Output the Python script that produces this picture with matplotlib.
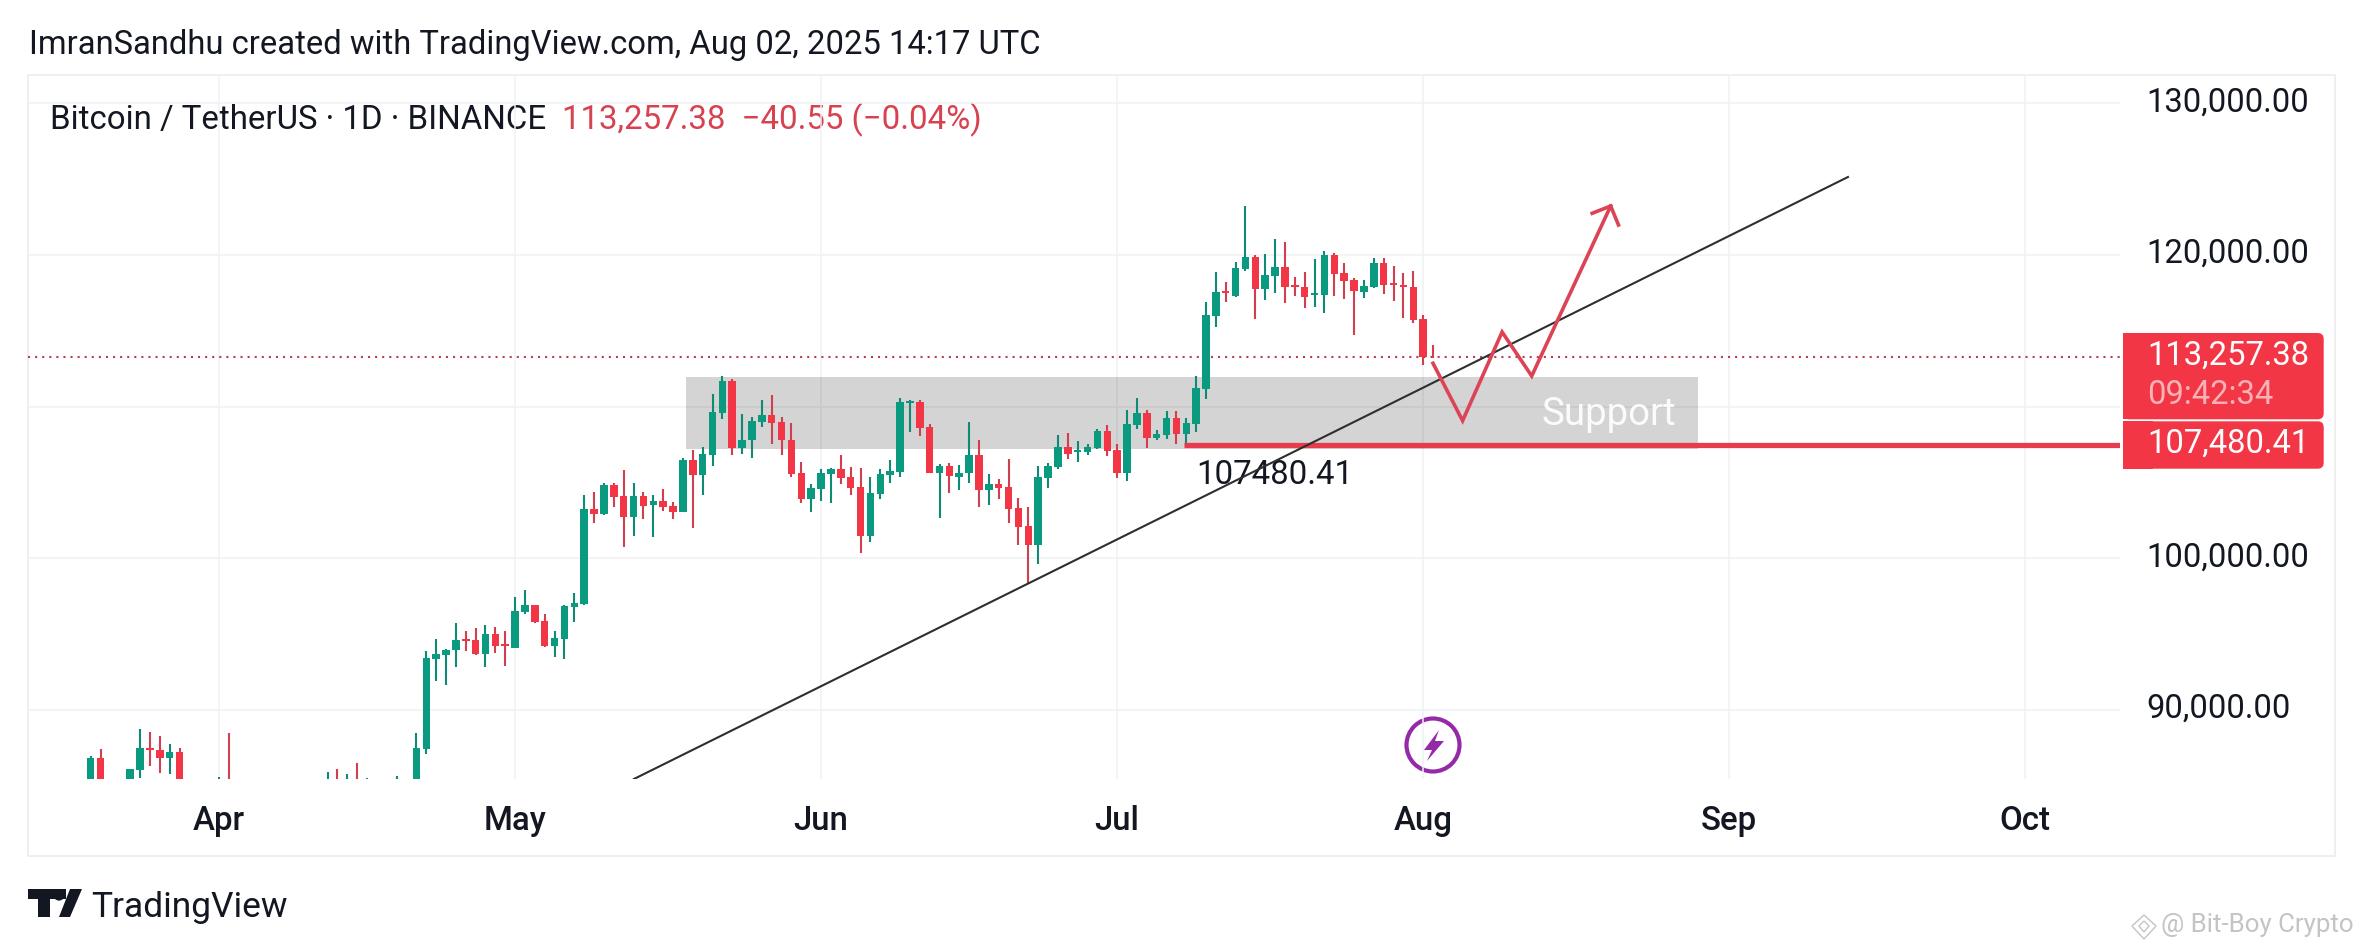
# BTC/USDT daily chart (TradingView screenshot)
import pandas as pd
import matplotlib
matplotlib.use('Agg')
import matplotlib.pyplot as plt
import matplotlib.dates as mdates
from matplotlib.patches import Circle, FancyBboxPatch, Polygon, Rectangle
from matplotlib.transforms import ScaledTranslation

plt.rcParams['font.family'] = ['Roboto', 'DejaVu Sans']

# daily candles, starting 2025-03-19
first_day = '2025-03-19'
opens = [
    82700, 86850, 84170, 84040, 83830, 86070, 87500, 87365, 86860, 87230,
    84420, 82650, 82390, 82550, 85160, 82520, 83100, 83860, 83500, 78210,
    79240, 76270, 82570, 79630, 83400, 85290, 83680, 84540, 83670, 84030,
    84900, 84450, 85060, 85170, 87450, 93390, 93650, 93940, 94700, 94620,
    93720, 94990, 94350, 94110, 96460, 96900, 95870, 94240, 94710, 96810,
    96990, 103250, 102920, 104830, 104110, 102750, 104110, 103490, 103760, 103430,
    103080, 106460, 105510, 106830, 109600, 111690, 107270, 107780, 108990, 109430,
    108990, 107800, 105600, 103930, 104590, 105580, 105890, 105360, 104700, 101490,
    104260, 105490, 105690, 110260, 110300, 108660, 105650, 106090, 105380, 105600,
    106790, 104530, 104880, 104700, 103300, 102110, 100900, 105320, 106040, 107320,
    107030, 107010, 107250, 108410, 107140, 105620, 108790, 109560, 107930, 108130,
    109230, 108220, 108880, 111160, 115970, 117620, 117310, 119050, 119860, 117730,
    118610, 119200, 118000, 117890, 117380, 117380, 119990, 118810, 118350, 117580,
    117890, 119470, 118150, 118020, 117890, 115780, 113297.93,
]
highs = [
    86970, 87430, 84850, 84500, 86130, 88730, 88530, 88290, 87740, 87500,
    84600, 83500, 83950, 85560, 88510, 83900, 84700, 84230, 83800, 81200,
    80820, 83500, 82700, 84250, 85910, 86110, 85780, 86500, 85520, 85200,
    85100, 85650, 85300, 88510, 93890, 94660, 94000, 95740, 95210, 95390,
    95580, 95470, 95210, 97450, 97910, 96950, 96310, 95190, 96900, 97690,
    104170, 104370, 104940, 104940, 105820, 104970, 104350, 104150, 104550, 103690,
    106640, 107140, 107320, 110830, 112020, 111800, 109510, 109290, 110410, 110770,
    109290, 108920, 106350, 104880, 105890, 105950, 106810, 106020, 105950, 105360,
    105870, 106480, 110570, 110440, 110440, 108830, 106220, 106260, 106150, 108990,
    107800, 105560, 105230, 106550, 103980, 103380, 106060, 106310, 108110, 108260,
    107730, 107560, 108500, 108790, 107540, 109780, 110570, 109760, 108440, 109710,
    109710, 109250, 112020, 116900, 118870, 118210, 119530, 123220, 119970, 120060,
    121030, 120850, 118540, 118870, 119730, 120260, 120130, 119470, 118480, 118350,
    119800, 119800, 119270, 118810, 118940, 116020, 114060,
]
lows = [
    82500, 83600, 83180, 83650, 83800, 85540, 86330, 85870, 85800, 84000,
    81600, 81600, 81300, 82430, 82300, 81200, 81600, 82370, 77150, 74500,
    76200, 74600, 78500, 78900, 82800, 83100, 83600, 83600, 83100, 83700,
    84100, 84300, 83900, 85100, 87100, 91940, 91670, 92860, 93910, 93650,
    92860, 93780, 92930, 94100, 96350, 95760, 94180, 93520, 93390, 95830,
    96900, 102350, 102880, 103400, 100770, 101490, 102610, 101430, 103140, 102590,
    103050, 102020, 104170, 106110, 109180, 106830, 106880, 106640, 108660, 107540,
    106830, 105380, 103670, 103080, 103800, 103670, 104920, 104200, 100370, 101100,
    103930, 104990, 105380, 108350, 108060, 105620, 102680, 104330, 104530, 104990,
    103400, 103540, 103930, 102350, 100900, 98400, 99650, 104660, 105870, 106570,
    106370, 106810, 107230, 106770, 105300, 105100, 108520, 107270, 107800, 107840,
    107540, 107320, 108330, 110520, 115270, 116900, 117250, 118940, 115780, 117050,
    117490, 116830, 117290, 116520, 116570, 116190, 117290, 117090, 114740, 117160,
    117840, 117420, 116960, 115840, 115510, 112740, 113200,
]
closes = [
    86850, 84170, 84040, 83830, 86110, 87500, 87390, 86860, 87230, 84420,
    82650, 82390, 82550, 85160, 82520, 83100, 83860, 83500, 78210, 79240,
    76270, 82570, 79630, 83400, 85290, 83680, 84540, 83670, 84030, 84900,
    84450, 85060, 85170, 87500, 93410, 93670, 93960, 94600, 94570, 93690,
    94990, 94240, 94220, 96530, 96900, 95800, 94220, 94730, 96860, 97030,
    103250, 102940, 104830, 104060, 102750, 104110, 103470, 103760, 103380, 103080,
    106480, 105510, 106880, 109650, 111690, 107270, 107800, 109050, 109430, 108940,
    107780, 105580, 103930, 104610, 105600, 105890, 105320, 104660, 101490, 104280,
    105540, 105760, 110300, 110370, 108610, 105650, 106090, 105400, 105620, 106790,
    104530, 104880, 104660, 103270, 102090, 100900, 105340, 106090, 107320, 106880,
    107140, 107340, 108410, 107100, 105620, 108850, 109560, 107950, 108200, 109230,
    108200, 108920, 111230, 116040, 117560, 117510, 119140, 119860, 117730, 118680,
    119200, 117910, 117900, 117250, 117470, 119990, 118760, 118300, 117600, 117950,
    119470, 118040, 118040, 117910, 115730, 113300, 113257.38,
]

# axis ticks (110,000 sits behind the price tags, so it has no label)
month_ticks = ['2025-04-01', '2025-05-01', '2025-06-01', '2025-07-01', '2025-08-01', '2025-09-01', '2025-10-01']
month_labels = ['Apr', 'May', 'Jun', 'Jul', 'Aug', 'Sep', 'Oct']
price_ticks = [90000, 100000, 110000, 120000, 130000]
price_labels = ['90,000.00', '100,000.00', '', '120,000.00', '130,000.00']

# drawings on the chart
last_price = 113257.38
support_price = 107480.41
support_zone = ['2025-05-18 08:00', '2025-08-28 20:00', 107184, 111930]
trend_dates = ['2025-05-13 01:00', '2025-09-13 01:00']
trend_prices = [85452, 125135]
path_dates = ['2025-08-02', '2025-08-05', '2025-08-09', '2025-08-12', '2025-08-20']
path_prices = [112855, 109071, 114918, 112017, 123224]
head_dates = ['2025-08-18 03:00', '2025-08-20 00:00', '2025-08-20 19:00']
head_prices = [122743, 123224, 121971]

GREEN = '#0a9a80'
RED = '#f23645'
WICK_RED = '#cf3f4f'
WICK_GREEN = '#0f8a74'
ARROW_RED = '#dc4355'
PURPLE = '#952aa8'
GRID = '#f0f1f3'
W, H = 2363, 952

fig = plt.figure(figsize=(W / 100, H / 100), dpi=100, facecolor='white')

# page layer in pixel coordinates: frame, tags, logo
page = fig.add_axes([0, 0, 1, 1], zorder=0)
page.set_xlim(0, W)
page.set_ylim(H, 0)
page.axis('off')

# chart layer
ax = fig.add_axes([28 / W, (H - 779) / H, (2120 - 28) / W, (779 - 75) / H], zorder=1)
ax.patch.set_alpha(0)
for s in ax.spines.values():
    s.set_visible(False)

apr1 = mdates.date2num(pd.Timestamp('2025-04-01'))
ax.set_xlim(apr1 - 191 / 9.87, apr1 + 1901 / 9.87)
ax.set_ylim(85452, 131859)

ax.set_xticks(mdates.date2num(pd.to_datetime(month_ticks)))
ax.set_xticklabels(month_labels, fontsize=23.8, fontweight='medium', color='#131722')
ax.set_yticks(price_ticks)
ax.set_yticklabels(price_labels, fontsize=23.6, color='#131722')
ax.yaxis.tick_right()
ax.tick_params(axis='both', length=0)
ax.tick_params(axis='x', pad=18.5)
ax.tick_params(axis='y', pad=19)
ax.grid(True, color=GRID, lw=1.1, zorder=0)
ax.set_axisbelow(True)

# price labels sit a little above their grid lines
lift = ScaledTranslation(0, 4.5 / 100, fig.dpi_scale_trans)
for label in ax.get_yticklabels():
    label.set_transform(label.get_transform() + lift)

# support zone
zx0, zx1 = mdates.date2num(pd.to_datetime(support_zone[:2]))
ax.add_patch(Rectangle((zx0, support_zone[2]), zx1 - zx0, support_zone[3] - support_zone[2],
                       facecolor='black', alpha=0.17, edgecolor='none', zorder=1))

# candles
days = mdates.date2num(pd.date_range(first_day, periods=len(closes)))
for d, o, h, l, c in zip(days, opens, highs, lows, closes):
    up = c >= o
    ax.vlines(d, l, h, color=WICK_GREEN if up else WICK_RED, lw=1.5, zorder=3)
    ax.bar(d, abs(c - o), bottom=min(o, c), width=0.76, color=GREEN if up else RED, lw=0, zorder=4)

# last price line
ax.axhline(last_price, color='#b5404e', lw=1.5, ls=(0, (1, 2.4)), zorder=2)

# support line and its label
line_start = apr1 + 97.8
ax.plot([line_start, ax.get_xlim()[1]], [support_price, support_price], color='#e93b4e', lw=3.8,
        solid_capstyle='butt', zorder=5)
ax.text(apr1 + 99.0, 105500, '107480.41', fontsize=23.8, color='#131722', ha='left', va='center', zorder=6)

# trend line
ax.plot(mdates.date2num(pd.to_datetime(trend_dates)), trend_prices, color='#2e2e2e', lw=1.5, zorder=6)

# expected path with arrow head
ax.plot(mdates.date2num(pd.to_datetime(path_dates)), path_prices, color=ARROW_RED, lw=2.6,
        solid_joinstyle='miter', zorder=7)
ax.plot(mdates.date2num(pd.to_datetime(head_dates)), head_prices, color=ARROW_RED, lw=2.6,
        solid_joinstyle='miter', zorder=7)

ax.text(apr1 + 147.6, 108787, 'Support', fontsize=27.6, color='white', alpha=0.92,
        ha='right', va='baseline', zorder=6)

# outer frame
page.add_patch(Rectangle((28, 75), 2335 - 28, 856 - 75, fill=False, edgecolor='#eeeeee', lw=1.3))

# header texts
page.text(29, 45, 'ImranSandhu created with TradingView.com, Aug 02, 2025 14:17 UTC',
          fontsize=23.6, color='#131722', va='center')
page.text(50, 120, 'Bitcoin / TetherUS · 1D · BINANCE', fontsize=23.75, color='#131722', va='center')
page.text(562, 120, '113,257.38  −40.55 (−0.04%)', fontsize=23.75, color='#d8414f', va='center')

# price tags
for y0, y1 in [(333, 419.3), (421.3, 468.7)]:
    page.add_patch(FancyBboxPatch((2123, y0), 200.7, y1 - y0, boxstyle='round,pad=0,rounding_size=6',
                                  facecolor=RED, edgecolor='none', zorder=2))
    page.add_patch(Rectangle((2123, y0), 30, y1 - y0, facecolor=RED, edgecolor='none', zorder=2))
page.text(2147, 356, '113,257.38', fontsize=23.6, color='white', va='center', zorder=3)
page.text(2147, 395, '09:42:34', fontsize=23.6, color='white', alpha=0.62, va='center', zorder=3)
page.text(2147, 444, '107,480.41', fontsize=23.6, color='white', va='center', zorder=3)

# purple bolt mark
page.add_patch(Circle((1433, 745), 26.5, fill=False, edgecolor=PURPLE, lw=3))
page.add_patch(Polygon([(1439, 730), (1424, 750), (1432, 750), (1427, 761), (1444, 741), (1435, 741)],
                       closed=True, facecolor=PURPLE, edgecolor='none'))

# TradingView logo
page.add_patch(Polygon([(28, 889), (66, 889), (66, 899), (50, 899), (50, 917), (38, 917), (38, 899), (28, 899)],
                       closed=True, facecolor='#131722', edgecolor='none'))
page.add_patch(Circle((59, 895), 5.6, facecolor='#131722', edgecolor='none'))
page.add_patch(Polygon([(70, 889), (82, 889), (70, 917), (59, 917)], closed=True,
                       facecolor='#131722', edgecolor='none'))
page.text(91, 908, 'TradingView', fontsize=25.5, color='#131722', va='center')

# watermark
page.add_patch(Polygon([(2144, 915), (2156, 926), (2144, 939), (2132, 926)], closed=True, fill=False,
                       edgecolor='#c4c4c4', lw=1))
page.add_patch(Polygon([(2144, 921), (2149, 926), (2144, 932), (2139, 926)], closed=True, fill=False,
                       edgecolor='#c4c4c4', lw=1))
page.text(2161, 925, '@ Bit-Boy Crypto', fontsize=18.6, color='#c4c4c4', va='center')

fig.savefig('out.png', dpi=100)
